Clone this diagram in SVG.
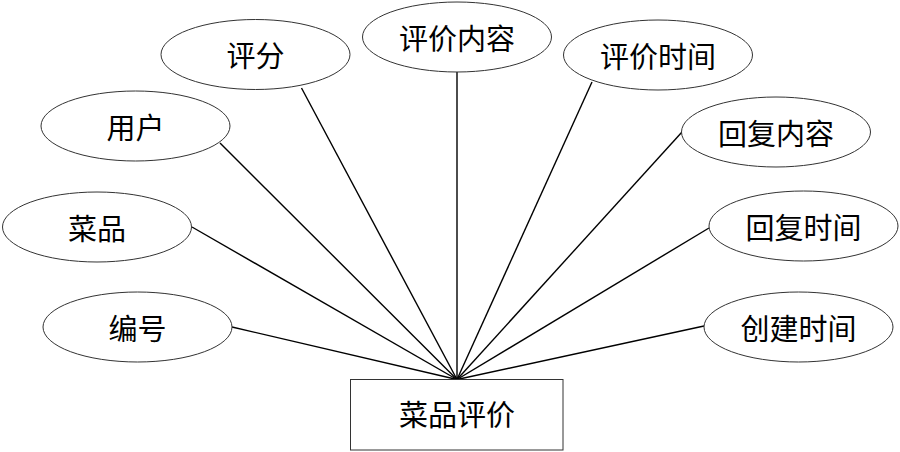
<svg xmlns="http://www.w3.org/2000/svg" width="900" height="452" viewBox="0 0 900 452">
<style>
.attr{fill:#fff;stroke:#333;stroke-width:1}
.ent{fill:#fff;stroke:#333;stroke-width:1}
.lbl{font-family:"Noto Sans CJK SC","Noto Sans CJK JP",sans-serif;font-size:29px;fill:#000;text-anchor:middle;dominant-baseline:central}
.conn line{stroke:#000;stroke-width:1.4}
</style>
<rect width="900" height="452" fill="#fff"/>
<g id="connectors" class="conn">
<line x1="457" y1="379.5" x2="301.5" y2="88"/>
<line x1="457" y1="379.5" x2="457" y2="72"/>
<line x1="457" y1="379.5" x2="592" y2="82"/>
<line x1="457" y1="379.5" x2="682" y2="132"/>
<line x1="457" y1="379.5" x2="220" y2="143"/>
<line x1="457" y1="379.5" x2="192" y2="227"/>
<line x1="457" y1="379.5" x2="232" y2="327"/>
<line x1="457" y1="379.5" x2="709" y2="228"/>
<line x1="457" y1="379.5" x2="704" y2="326"/>
</g>
<g id="entity">
<rect class="ent" x="350.5" y="379.5" width="212.5" height="70.5"/>
<text class="lbl" x="457" y="413">菜品评价</text>
</g>
<g id="attr-pingfen">
<ellipse class="attr" cx="255.5" cy="54.5" rx="94.5" ry="35"/>
<text class="lbl" x="255.5" y="54">评分</text>
</g>
<g id="attr-pingjianeirong">
<ellipse class="attr" cx="457" cy="37" rx="94.5" ry="35"/>
<text class="lbl" x="457" y="36.5">评价内容</text>
</g>
<g id="attr-pingjiashijian">
<ellipse class="attr" cx="658" cy="55" rx="94.5" ry="35"/>
<text class="lbl" x="658" y="54.5">评价时间</text>
</g>
<g id="attr-huifuneirong">
<ellipse class="attr" cx="776" cy="132" rx="94.5" ry="35"/>
<text class="lbl" x="776" y="131.5">回复内容</text>
</g>
<g id="attr-yonghu">
<ellipse class="attr" cx="135.5" cy="126" rx="94.5" ry="35"/>
<text class="lbl" x="135.5" y="125.5">用户</text>
</g>
<g id="attr-caipin">
<ellipse class="attr" cx="97" cy="227" rx="94.5" ry="35"/>
<text class="lbl" x="97" y="226.5">菜品</text>
</g>
<g id="attr-bianhao">
<ellipse class="attr" cx="137.5" cy="327" rx="94.5" ry="35"/>
<text class="lbl" x="137.5" y="326.5">编号</text>
</g>
<g id="attr-huifushijian">
<ellipse class="attr" cx="803.5" cy="226" rx="94.5" ry="35"/>
<text class="lbl" x="803.5" y="225.5">回复时间</text>
</g>
<g id="attr-chuangjianshijian">
<ellipse class="attr" cx="798.5" cy="327" rx="94.5" ry="35"/>
<text class="lbl" x="798.5" y="326.5">创建时间</text>
</g>
</svg>
